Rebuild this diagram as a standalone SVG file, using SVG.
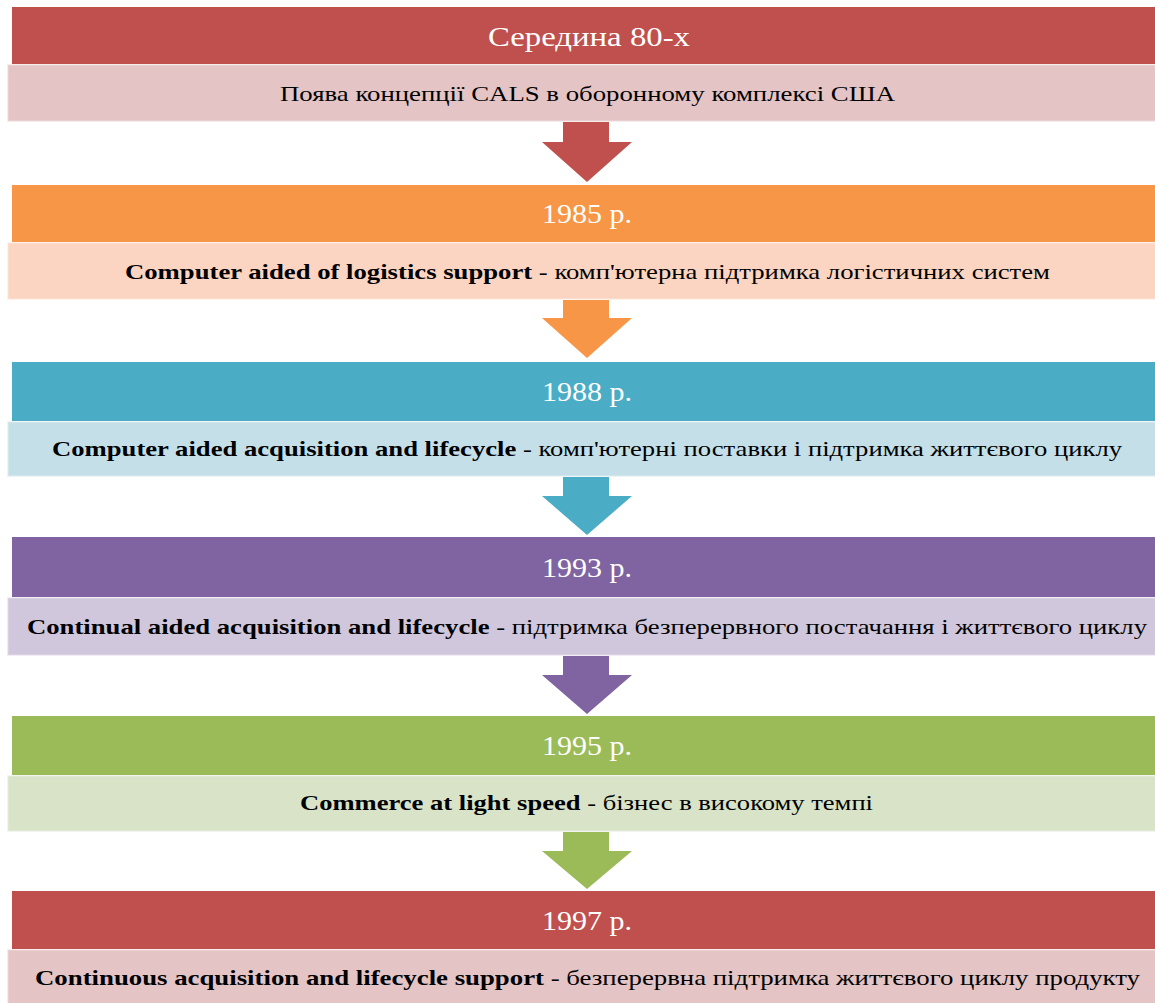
<svg xmlns="http://www.w3.org/2000/svg" width="1155" height="1003" viewBox="0 0 1155 1003">
<style>
.title{font-family:"Liberation Serif","Times New Roman",serif;font-size:28px;fill:#ffffff;text-anchor:middle}
.body{font-family:"Liberation Serif","Times New Roman",serif;font-size:22px;fill:#000000}
.b{font-weight:bold}
.light{stroke-width:2;stroke-opacity:0.5}
</style>
<rect width="1155" height="1003" fill="#ffffff"/>
<g id="connectors">
<path d="M563,122 H609 V142 H632 L587,182 L542,142 H563 Z" fill="#C0504D"/>
<path d="M563,300 H609 V318 H632 L587,358 L542,318 H563 Z" fill="#F79646"/>
<path d="M563,477 H609 V496 H632 L587,535 L542,496 H563 Z" fill="#4BACC6"/>
<path d="M563,656 H609 V675 H632 L587,714 L542,675 H563 Z" fill="#8064A2"/>
<path d="M563,832 H609 V851 H632 L587,889 L542,851 H563 Z" fill="#9BBB59"/>
</g>
<g id="node1">
<rect x="12" y="7" width="1143" height="57" fill="#C0504D"/>
<rect x="8" y="65" width="1148" height="56" fill="#E4C4C5" stroke="#EEDADA" class="light"/>
<text class="title" x="589" y="46" textLength="202" lengthAdjust="spacingAndGlyphs">Середина 80-х</text>
<text class="body" x="280" y="101" textLength="615" lengthAdjust="spacingAndGlyphs">Поява концепції CALS в оборонному комплексі США</text>
</g>
<g id="node2">
<rect x="12" y="185" width="1143" height="57" fill="#F79646"/>
<rect x="8" y="243" width="1148" height="56" fill="#FBD5C1" stroke="#FDE6DA" class="light"/>
<text class="title" x="587" y="223" textLength="90" lengthAdjust="spacingAndGlyphs">1985 р.</text>
<text class="body" x="125" y="279" textLength="925" lengthAdjust="spacingAndGlyphs"><tspan class="b">Computer aided of logistics support</tspan> - комп'ютерна підтримка логістичних систем</text>
</g>
<g id="node3">
<rect x="12" y="362" width="1143" height="59" fill="#4BACC6"/>
<rect x="8" y="422" width="1148" height="54" fill="#C5DFE8" stroke="#DCEBF0" class="light"/>
<text class="title" x="587" y="401" textLength="90" lengthAdjust="spacingAndGlyphs">1988 р.</text>
<text class="body" x="52" y="456" textLength="1070" lengthAdjust="spacingAndGlyphs"><tspan class="b">Computer aided acquisition and lifecycle</tspan> - комп'ютерні поставки і підтримка життєвого циклу</text>
</g>
<g id="node4">
<rect x="12" y="537" width="1143" height="60" fill="#8064A2"/>
<rect x="8" y="598" width="1148" height="57" fill="#D0C7DC" stroke="#E2DCEA" class="light"/>
<text class="title" x="587" y="577" textLength="90" lengthAdjust="spacingAndGlyphs">1993 р.</text>
<text class="body" x="27" y="634" textLength="1120" lengthAdjust="spacingAndGlyphs"><tspan class="b">Continual aided acquisition and lifecycle</tspan> - підтримка безперервного постачання і життєвого циклу</text>
</g>
<g id="node5">
<rect x="12" y="716" width="1143" height="59" fill="#9BBB59"/>
<rect x="8" y="776" width="1148" height="55" fill="#D8E3C8" stroke="#E7EEDD" class="light"/>
<text class="title" x="587" y="755" textLength="90" lengthAdjust="spacingAndGlyphs">1995 р.</text>
<text class="body" x="300" y="810" textLength="573" lengthAdjust="spacingAndGlyphs"><tspan class="b">Commerce at light speed</tspan> - бізнес в високому темпі</text>
</g>
<g id="node6">
<rect x="12" y="891" width="1143" height="58" fill="#C0504D"/>
<rect x="8" y="950" width="1148" height="54" fill="#E4C4C5" stroke="#EEDADA" class="light"/>
<text class="title" x="587" y="930" textLength="90" lengthAdjust="spacingAndGlyphs">1997 р.</text>
<text class="body" x="35" y="985" textLength="1105" lengthAdjust="spacingAndGlyphs"><tspan class="b">Continuous acquisition and lifecycle support</tspan> - безперервна підтримка життєвого циклу продукту</text>
</g>
</svg>
